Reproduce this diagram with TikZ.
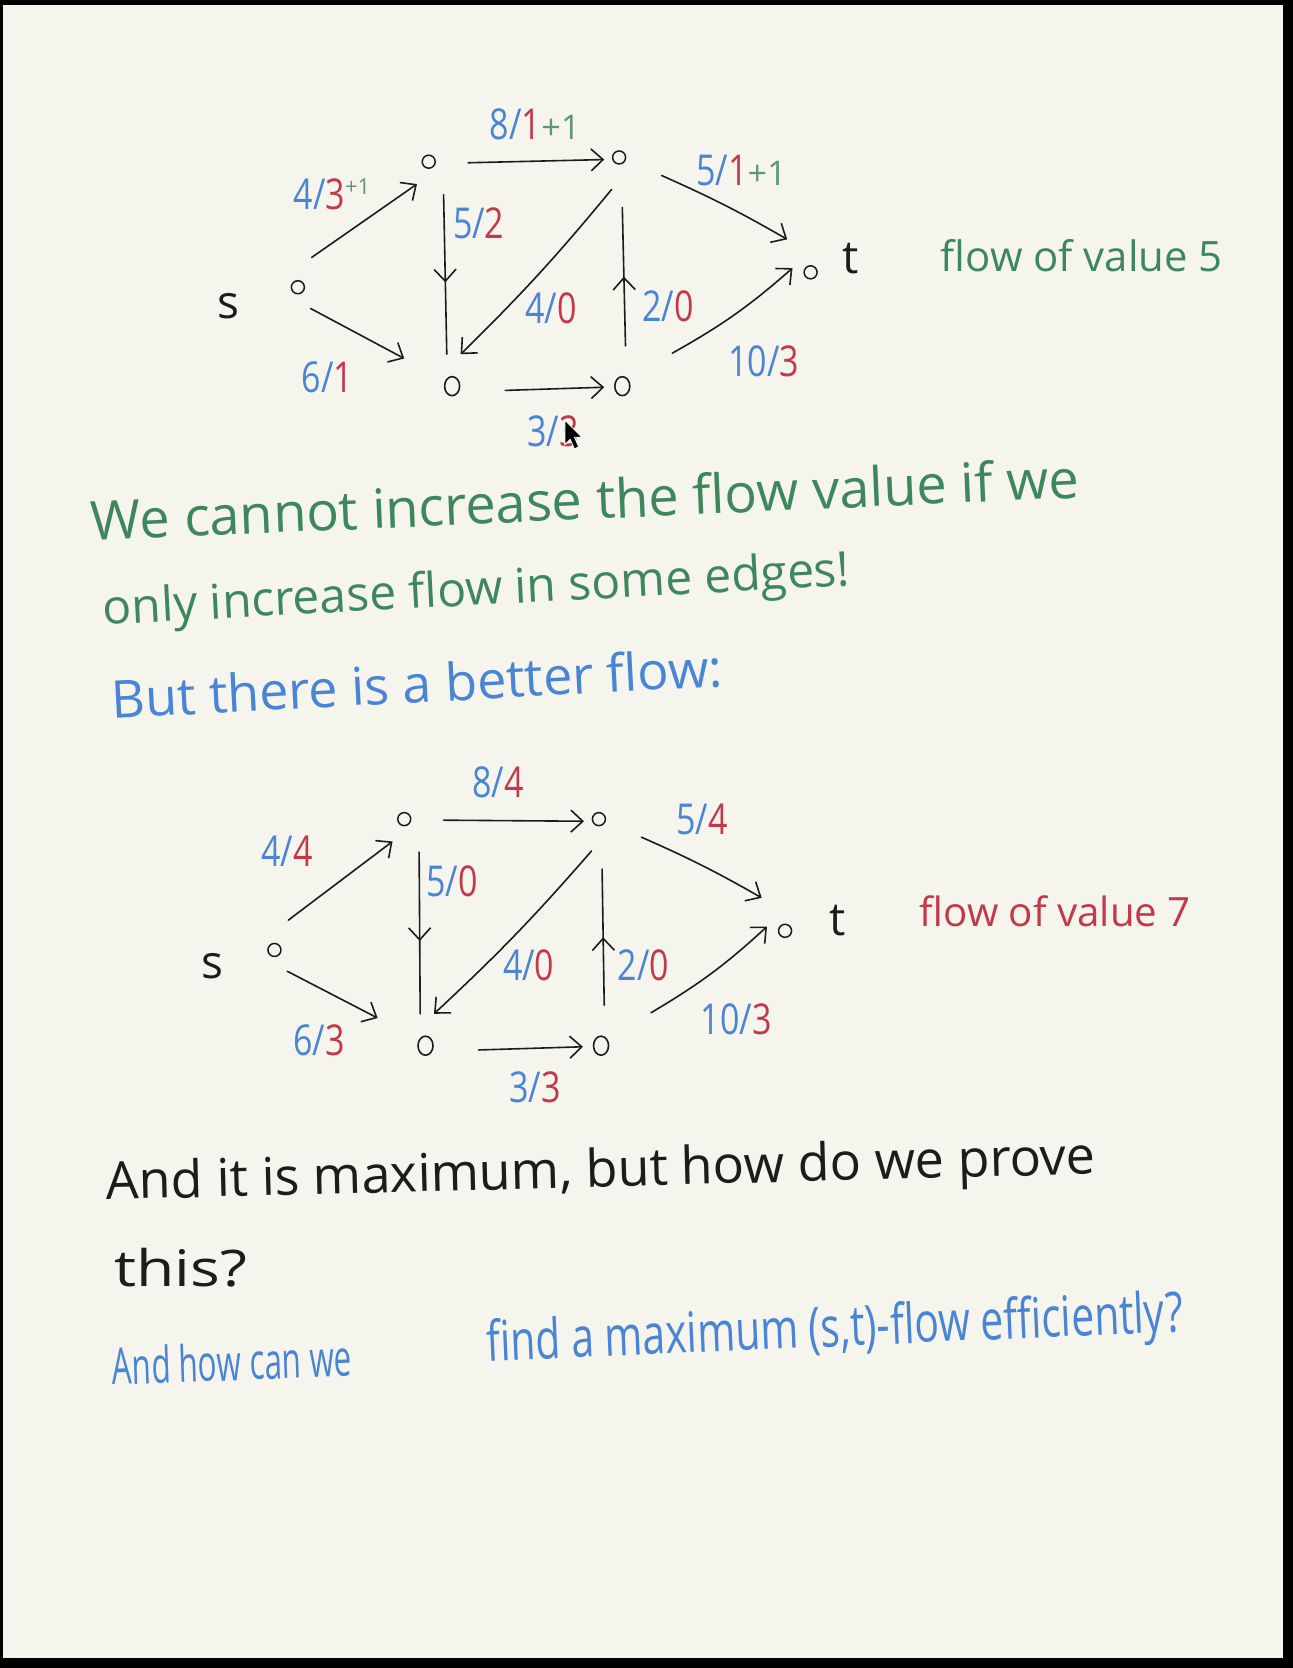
\documentclass[tikz,border=0pt]{standalone}
\usepackage{fontspec}
\setmainfont{Open Sans}
\usepackage{graphicx}
\usetikzlibrary{arrows.meta,decorations.markings,calc,shapes.geometric}
\definecolor{paper}{HTML}{F5F5EE}
\definecolor{inkgreen}{RGB}{62,135,92}
\definecolor{inkblue}{RGB}{74,132,212}
\definecolor{inkred}{RGB}{194,58,74}
\definecolor{inkblack}{RGB}{28,28,28}
\definecolor{inkplus}{RGB}{96,150,116}
\newdimen\pxu \pxu=0.5317pt
\newcommand{\flab}[2]{\scalebox{1}[1.25]{\textcolor{inkblue}{#1/}\textcolor{inkred}{#2}}}
\newcommand{\plusone}{\textcolor{inkplus}{+1}}
\tikzset{
 vtx/.style={draw=inkblack,circle,line width=0.75pt,inner sep=0pt,minimum size=6.5pt},
 vtxbig/.style={draw=inkblack,ellipse,line width=0.8pt,inner sep=0pt,minimum width=7.5pt,minimum height=9.5pt},
 con/.style={draw=inkblack,line width=0.8pt,line cap=round,line join=round},
 tip/.style={con,-{Straight Barb[length=6pt,width=11pt]}},
 midtip/.style={con,decoration={markings,mark=at position #1 with {\arrow{Straight Barb[length=6pt,width=11pt]}}},postaction={decorate}},
 lbl/.style={inner sep=0pt,font=\fontsize{17}{17}\selectfont},
 nm/.style={inner sep=0pt,font=\fontsize{23}{23}\selectfont,text=inkblack},
 hand/.style={inner sep=0pt,anchor=center},
}
\begin{document}
\begin{tikzpicture}[x=0.5317pt,y=-0.5317pt]
\useasboundingbox (0,0) rectangle (1215,1568);
\fill[black] (0,0) rectangle (1215,1568);
\fill[paper] (2.8,4.7) rectangle (1206.5,1559);

% ---------- top graph ----------
\node[vtx] (s1) at (280,270) {};
\node[vtx] (a1) at (403,152) {};
\node[vtx] (b1) at (582,148) {};
\node[vtx] (t1) at (762,256) {};
\node[vtxbig] (c1) at (425,363) {};
\node[vtxbig] (d1) at (585,363) {};
\node[nm] (sl1) at (215,288) {s};
\node[nm] (tl1) at (800,243) {t};

\draw[tip] ([shift={(13,-28)}]s1.center) -- ([shift={(-11,21)}]a1.center);
\draw[tip] ([shift={(12,20)}]s1.center) -- ([shift={(-45,-26)}]c1.center);
\draw[tip] ([shift={(37,1)}]a1.center) -- ([shift={(-14,2)}]b1.center);
\draw[midtip=0.55] ([shift={(14,31)}]a1.center) -- ([shift={(-5,-30)}]c1.center);
\draw[tip] ([shift={(-7,30)}]b1.center) to[bend left=3] ([shift={(8,-30)}]c1.center);
\draw[midtip=0.5] ([shift={(3,-38)}]d1.center) -- ([shift={(3,47)}]b1.center);
\draw[tip] ([shift={(50,4)}]c1.center) -- ([shift={(-17,1)}]d1.center);
\draw[tip] ([shift={(40,17)}]b1.center) to[bend left=3] ([shift={(-22,-31)}]t1.center);
\draw[tip] ([shift={(47,-31)}]d1.center) to[bend right=6] ([shift={(-17,-4)}]t1.center);

\node[lbl] (e1a) at (312,183) {\flab{4}{3}\raisebox{0.45em}{\fontsize{11}{11}\selectfont\plusone}};
\node[lbl] (e1b) at (503,117) {\flab{8}{1}\plusone};
\node[lbl] (e1c) at (697,160) {\flab{5}{1}\plusone};
\node[lbl] (e1d) at (450,210) {\flab{5}{2}};
\node[lbl] (e1e) at (518,290) {\flab{4}{0}};
\node[lbl] (e1f) at (628,288) {\flab{2}{0}};
\node[lbl] (e1g) at (718,340) {\flab{10}{3}};
\node[lbl] (e1h) at (308,355) {\flab{6}{1}};
\node[lbl] (e1i) at (520,405) {\flab{3}{3}};
% mouse pointer
\filldraw[fill=black,draw=white,line width=0.4pt] (531,395) -- (531,418) -- (536,413) -- (540,422) -- (544,420) -- (540,411) -- (547,411) -- cycle;

\node[hand,text=inkgreen] (fv5) at (1017,240) {\resizebox{265\pxu}{!}{flow of value 5}};

% ---------- texts ----------
\node[hand,text=inkgreen,rotate=2.5] (l1) at (550,469) {\resizebox{930\pxu}{!}{We cannot increase the flow value if we}};
\node[hand,text=inkgreen,rotate=3] (l2) at (448,557) {\resizebox{703\pxu}{!}{only increase flow in some edges!}};
\node[hand,text=inkblue,rotate=3] (l3) at (392,642) {\resizebox{575\pxu}{!}{But there is a better flow:}};

% ---------- bottom graph ----------
\node[vtx] (s2) at (258,893) {};
\node[vtx] (a2) at (380,770) {};
\node[vtx] (b2) at (563,770) {};
\node[vtx] (t2) at (738,875) {};
\node[vtxbig] (c2) at (400,983) {};
\node[vtxbig] (d2) at (565,983) {};
\node[nm] (sl2) at (200,908) {s};
\node[nm] (tl2) at (787,865) {t};

\draw[tip] ([shift={(13,-28)}]s2.center) -- ([shift={(-11,21)}]a2.center);
\draw[tip] ([shift={(12,20)}]s2.center) -- ([shift={(-45,-26)}]c2.center);
\draw[tip] ([shift={(37,1)}]a2.center) -- ([shift={(-14,2)}]b2.center);
\draw[midtip=0.55] ([shift={(14,31)}]a2.center) -- ([shift={(-5,-30)}]c2.center);
\draw[tip] ([shift={(-7,30)}]b2.center) to[bend left=3] ([shift={(8,-30)}]c2.center);
\draw[midtip=0.5] ([shift={(3,-38)}]d2.center) -- ([shift={(3,47)}]b2.center);
\draw[tip] ([shift={(50,4)}]c2.center) -- ([shift={(-17,1)}]d2.center);
\draw[tip] ([shift={(40,17)}]b2.center) to[bend left=3] ([shift={(-22,-31)}]t2.center);
\draw[tip] ([shift={(47,-31)}]d2.center) to[bend right=6] ([shift={(-17,-4)}]t2.center);

\node[lbl] (e2a) at (270,800) {\flab{4}{4}};
\node[lbl] (e2b) at (468,735) {\flab{8}{4}};
\node[lbl] (e2c) at (660,770) {\flab{5}{4}};
\node[lbl] (e2d) at (425,828) {\flab{5}{0}};
\node[lbl] (e2e) at (497,907) {\flab{4}{0}};
\node[lbl] (e2f) at (605,907) {\flab{2}{0}};
\node[lbl] (e2g) at (692,958) {\flab{10}{3}};
\node[lbl] (e2h) at (300,978) {\flab{6}{3}};
\node[lbl] (e2i) at (503,1022) {\flab{3}{3}};

\node[hand,text=inkred] (fv7) at (992,857) {\resizebox{255\pxu}{!}{flow of value 7}};

\node[hand,text=inkblack,rotate=1.5] (l4) at (565,1103) {\resizebox{930\pxu}{!}{And it is maximum, but how do we prove}};
\node[hand,text=inkblack] (l5) at (170,1192) {\fontsize{24}{24}\selectfont\scalebox{1.3}[1.05]{this?}};
\node[hand,text=inkblue,rotate=2] (l6a) at (218,1280) {\resizebox{225\pxu}{36\pxu}{And how can we}};
\node[hand,text=inkblue,rotate=2.5] (l6b) at (785,1252) {\resizebox{655\pxu}{40\pxu}{find a maximum (s,t)-flow efficiently?}};
\end{tikzpicture}
\end{document}
